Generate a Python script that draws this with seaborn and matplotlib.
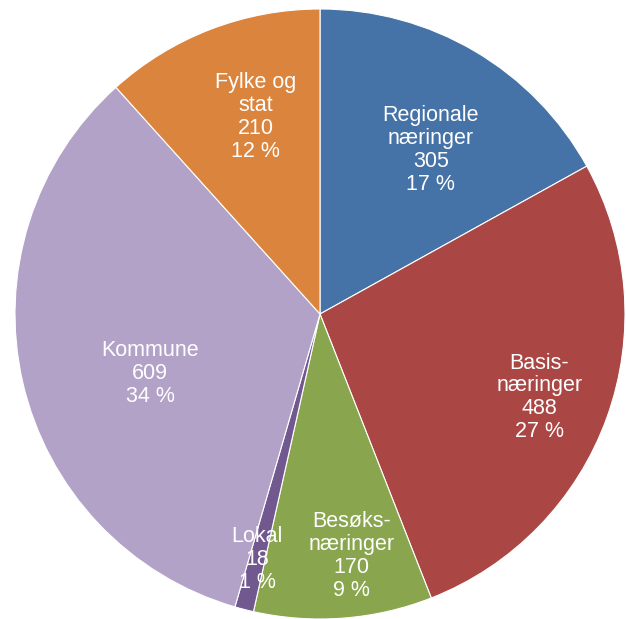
import numpy as np
import seaborn as sns
import matplotlib.pyplot as plt

labels = ['Regionale\nnæringer', 'Basis-\nnæringer', 'Besøks-\nnæringer', 'Lokal', 'Kommune', 'Fylke og\nstat']
values = [305, 488, 170, 18, 609, 210]
colors = ['#4572A7', '#AA4643', '#89A54E', '#71588F', '#B3A2C7', '#DB843D']
# label placement: fraction of radius and small angle nudge (degrees)
label_r = [0.65, 0.77, 0.80, 0.83, 0.59, 0.68]
label_da = [-3.5, -1, 3, 0, 6.5, -3]

sns.set_theme(style='white')
plt.rcParams['font.family'] = ['Liberation Sans', 'DejaVu Sans']

fig = plt.figure(figsize=(6.26, 6.19), dpi=100)
ax = fig.add_axes([15/626, 0/619, 610/626, 610/619])

wedges, _ = ax.pie(values, colors=colors, startangle=90, counterclock=False,
                   wedgeprops={'edgecolor': 'white', 'linewidth': 0.8})

total = sum(values)
for w, lab, v, r, da in zip(wedges, labels, values, label_r, label_da):
    ang = np.deg2rad((w.theta1 + w.theta2) / 2 + da)
    pct = round(v / total * 100)
    ax.text(r * np.cos(ang), r * np.sin(ang), f'{lab}\n{v}\n{pct} %',
            ha='center', va='center', color='white', fontsize=15.5, linespacing=1.12)

ax.set_xlim(-1, 1)
ax.set_ylim(-1, 1)
ax.set_aspect('equal')
ax.axis('off')
fig.savefig('out.png', dpi=100)
